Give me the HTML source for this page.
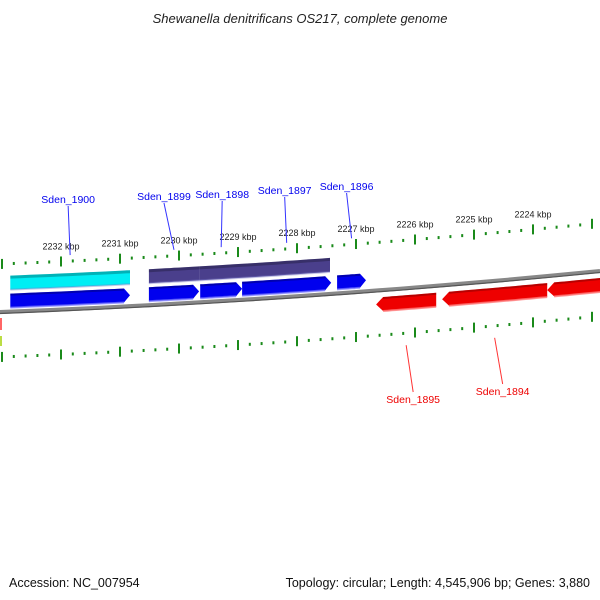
<!DOCTYPE html>
<html><head><meta charset="utf-8"><style>
body{margin:0;background:#fff}
svg{display:block;font-family:"Liberation Sans",sans-serif}
</style></head><body>
<svg id="c" width="600" height="600" viewBox="0 0 600 600">
<text x="300" y="23" text-anchor="middle" font-size="13" font-style="italic" fill="#222">Shewanella denitrificans OS217, complete genome</text>
<text x="9" y="587" font-size="12.5" fill="#111">Accession: NC_007954</text>
<text x="590" y="587" font-size="12.5" fill="#111" text-anchor="end">Topology: circular; Length: 4,545,906 bp; Genes: 3,880</text>
<rect x="0" y="318" width="2" height="12" fill="#f66"/>
<rect x="0" y="336" width="2" height="10" fill="#bd4"/>
<g id="g"></g>
</svg>
<script>
const kbpTicks=[2232,2231,2230,2229,2228,2227,2226,2225,2224,2223];
const fwdGenes=["Sden_1900","Sden_1899","Sden_1898","Sden_1897","Sden_1896"];
const fwdStart=[2232.86,2230.51,2229.64,2228.93,2227.32];
const fwdEnd=[2230.83,2229.66,2228.93,2227.42,2226.83];
const revGenes=["Sden_1895","Sden_1894","Sden_1893"];
const revStart=[2225.64,2223.76,2222.3];
const revEnd=[2226.66,2225.54,2223.76];
const featStart=[2232.86,2230.51,2229.66];
const featEnd=[2230.83,2229.66,2227.44];
const featColor=["#00eef4","#4a3f8c","#4a3f8c"];
const fwdLabelY=[203,200,198,194,190];
const fwdLabelDx=[-2,-10,1,-2,-5];
const revLabelY=[403,395];
const revLabelDx=[7,8];

const NS="http://www.w3.org/2000/svg",G=document.getElementById('g');
function xk(k){return 61+(2232-k)*59;}
function base(x){return 312-0.0383*x-5e-5*x*x;}
function mk(t,a){const e=document.createElementNS(NS,t);for(const k in a)e.setAttribute(k,a[k]);G.appendChild(e);return e;}
function band(x1,x2,o1,o2){let p=[];const n=12;for(let i=0;i<=n;i++){const x=x1+(x2-x1)*i/n;p.push([x,base(x)+o1]);}for(let i=n;i>=0;i--){const x=x1+(x2-x1)*i/n;p.push([x,base(x)+o2]);}return p;}
function pts(p){return p.map(q=>q[0].toFixed(1)+','+q[1].toFixed(1)).join(' ');}

// backbone
let bb=mk('polyline',{points:pts(band(0,600,0,0).slice(0,13)),fill:'none',stroke:'#888','stroke-width':4});


mk('polyline',{points:pts(band(0,600,1.5,1.5).slice(0,13)),fill:'none',stroke:'#555','stroke-width':1.2});

// ticks
for(const off of [-48,45]){
  for(let k=2233.2;k>=2221.8;k-=0.2){
    const kk=Math.round(k*5)/5,x=xk(kk);if(x<0||x>600)continue;
    const y=base(x)+off;const major=Math.abs(kk-Math.round(kk))<0.01;
    const t=mk('rect',{x:x-1,y:major?y-5:y-1.5,width:2,height:major?10:3,fill:'#1a8a1a'});
    
    
  }
}
kbpTicks.forEach(k=>{const x=xk(k);if(x>580)return;
  const t=mk('text',{x:x,y:base(x)-60,'font-size':9,'text-anchor':'middle',fill:'#222'});t.textContent=k+' kbp';
  
  });

// feature bars
featStart.forEach((s,i)=>{const x1=xk(s),x2=xk(featEnd[i]);
  const p=mk('polygon',{points:pts(band(x1,x2,-36,-22)),fill:featColor[i]});
  
  
  mk('polygon',{points:pts(band(x1,x2,-36,-33)),fill:'rgba(0,0,0,0.25)'});
  mk('polygon',{points:pts(band(x1,x2,-23,-21)),fill:'rgba(120,120,200,0.4)'});});

// forward genes
fwdGenes.forEach((n,i)=>{const x1=xk(fwdStart[i]),x2=xk(fwdEnd[i]);
  const b=band(x1,x2-6,-18,-4);const tip=[x2,base(x2)-11];
  const p=[...b.slice(0,13),tip,...b.slice(13)];
  const g=mk('polygon',{points:pts(p),fill:'#0000ee'});
  
  
  mk('polygon',{points:pts(band(x1,x2-6,-18,-16)),fill:'rgba(0,0,80,0.4)'});
  mk('polygon',{points:pts(band(x1,x2-6,-5,-3)),fill:'rgba(120,120,255,0.7)'});
  const mx=(x1+x2)/2,ly=fwdLabelY[i],lx=mx+fwdLabelDx[i];
  const l=mk('line',{x1:lx,y1:ly+3,x2:mx,y2:base(mx)-54,stroke:'#33f','stroke-width':1});
  
  
  const t=mk('text',{x:lx,y:ly,'font-size':10.5,'text-anchor':'middle',fill:'#00e'});t.textContent=n;
  
  });

// reverse genes
revGenes.forEach((n,i)=>{const x1=xk(revEnd[i]),x2=xk(revStart[i]);
  const b=band(x1+7,x2,7,21);const tip=[x1,base(x1)+14];
  const p=[...b.slice(0,13),...b.slice(13),tip];
  const g=mk('polygon',{points:pts(p),fill:'#ee0000'});
  
  
  mk('polygon',{points:pts(band(x1+7,x2,7,9)),fill:'rgba(100,0,0,0.4)'});
  mk('polygon',{points:pts(band(x1+7,x2,20,22)),fill:'rgba(255,120,120,0.8)'});
  if(i<revLabelY.length){const mx=(x1+x2)/2,ly=revLabelY[i],lx=mx+revLabelDx[i];
    const l=mk('line',{x1:mx,y1:base(mx)+57,x2:lx,y2:ly-11,stroke:'#f33','stroke-width':1});
    
    
    const t=mk('text',{x:lx,y:ly,'font-size':10.5,'text-anchor':'middle',fill:'#e00'});t.textContent=n;
    
    }});
</script>
</body></html>
